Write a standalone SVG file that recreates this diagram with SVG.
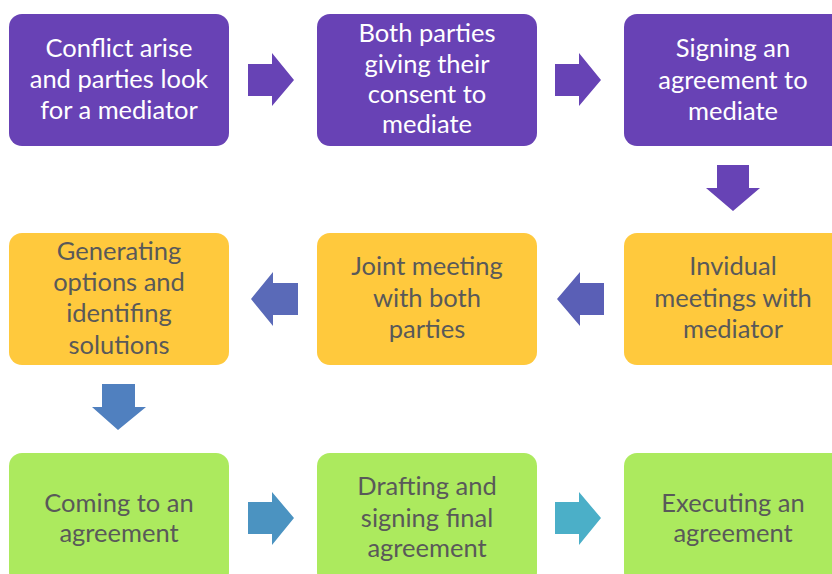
<svg xmlns="http://www.w3.org/2000/svg" width="832" height="574" viewBox="0 0 832 574">
  <style>
    .box { stroke: none; }
    .purple { fill: #6842B5; }
    .yellow { fill: #FFC93D; }
    .green { fill: #ACEA5E; }
    text { font-family: Lato, "Open Sans", sans-serif; font-size: 25.5px; text-anchor: middle; }
    .light { fill: #FFFFFF; }
    .dark { fill: #595959; }
  </style>
  <rect width="832" height="574" fill="#FFFFFF"/>

  <!-- Row 1 -->
  <g id="n1">
    <rect class="box purple" x="9" y="14" width="220" height="132" rx="13"/>
    <text class="light" x="119" y="57">Conflict arise</text>
    <text class="light" x="119" y="88">and parties look</text>
    <text class="light" x="119" y="119">for a mediator</text>
  </g>
  <g id="n2">
    <rect class="box purple" x="317" y="14" width="220" height="132" rx="13"/>
    <text class="light" x="427" y="42">Both parties</text>
    <text class="light" x="427" y="73">giving their</text>
    <text class="light" x="427" y="103">consent to</text>
    <text class="light" x="427" y="133">mediate</text>
  </g>
  <g id="n3">
    <rect class="box purple" x="624" y="14" width="220" height="132" rx="13"/>
    <text class="light" x="733" y="57">Signing an</text>
    <text class="light" x="733" y="89">agreement to</text>
    <text class="light" x="733" y="120">mediate</text>
  </g>

  <!-- Row 2 -->
  <g id="n4">
    <rect class="box yellow" x="624" y="233" width="220" height="132" rx="13"/>
    <text class="dark" x="733" y="275">Invidual</text>
    <text class="dark" x="733" y="307">meetings with</text>
    <text class="dark" x="733" y="338">mediator</text>
  </g>
  <g id="n5">
    <rect class="box yellow" x="317" y="233" width="220" height="132" rx="13"/>
    <text class="dark" x="427" y="275">Joint meeting</text>
    <text class="dark" x="427" y="307">with both</text>
    <text class="dark" x="427" y="338">parties</text>
  </g>
  <g id="n6">
    <rect class="box yellow" x="9" y="233" width="220" height="132" rx="13"/>
    <text class="dark" x="119" y="260">Generating</text>
    <text class="dark" x="119" y="291">options and</text>
    <text class="dark" x="119" y="322">identifing</text>
    <text class="dark" x="119" y="354">solutions</text>
  </g>

  <!-- Row 3 -->
  <g id="n7">
    <rect class="box green" x="9" y="453" width="220" height="132" rx="13"/>
    <text class="dark" x="119" y="512">Coming to an</text>
    <text class="dark" x="119" y="542">agreement</text>
  </g>
  <g id="n8">
    <rect class="box green" x="317" y="453" width="220" height="132" rx="13"/>
    <text class="dark" x="427" y="495">Drafting and</text>
    <text class="dark" x="427" y="527">signing final</text>
    <text class="dark" x="427" y="557">agreement</text>
  </g>
  <g id="n9">
    <rect class="box green" x="624" y="453" width="220" height="132" rx="13"/>
    <text class="dark" x="733" y="512">Executing an</text>
    <text class="dark" x="733" y="542">agreement</text>
  </g>

  <!-- Block arrows between steps -->
  <g id="connectors">
    <polygon fill="#6743B5" points="248,64 272,64 272,53 294,80 272,106 272,96 248,96"/>
    <polygon fill="#6743B5" points="555,64 579,64 579,53 601,80 579,106 579,96 555,96"/>
    <polygon fill="#6743B5" points="717,165 749,165 749,188 760,188 733,211 706,188 717,188"/>
    <polygon fill="#5A5FB6" points="604,283 580,283 580,272 557,299 580,326 580,315 604,315"/>
    <polygon fill="#5A6AB8" points="298,283 273,283 273,272 251,299 273,326 273,315 298,315"/>
    <polygon fill="#5080BF" points="102,384 135,384 135,407 146,407 118,430 92,407 102,407"/>
    <polygon fill="#4B93C1" points="248,502 272,502 272,492 294,518 272,545 272,534 248,534"/>
    <polygon fill="#4BAFC8" points="555,502 579,502 579,492 601,518 579,545 579,534 555,534"/>
  </g>
</svg>
